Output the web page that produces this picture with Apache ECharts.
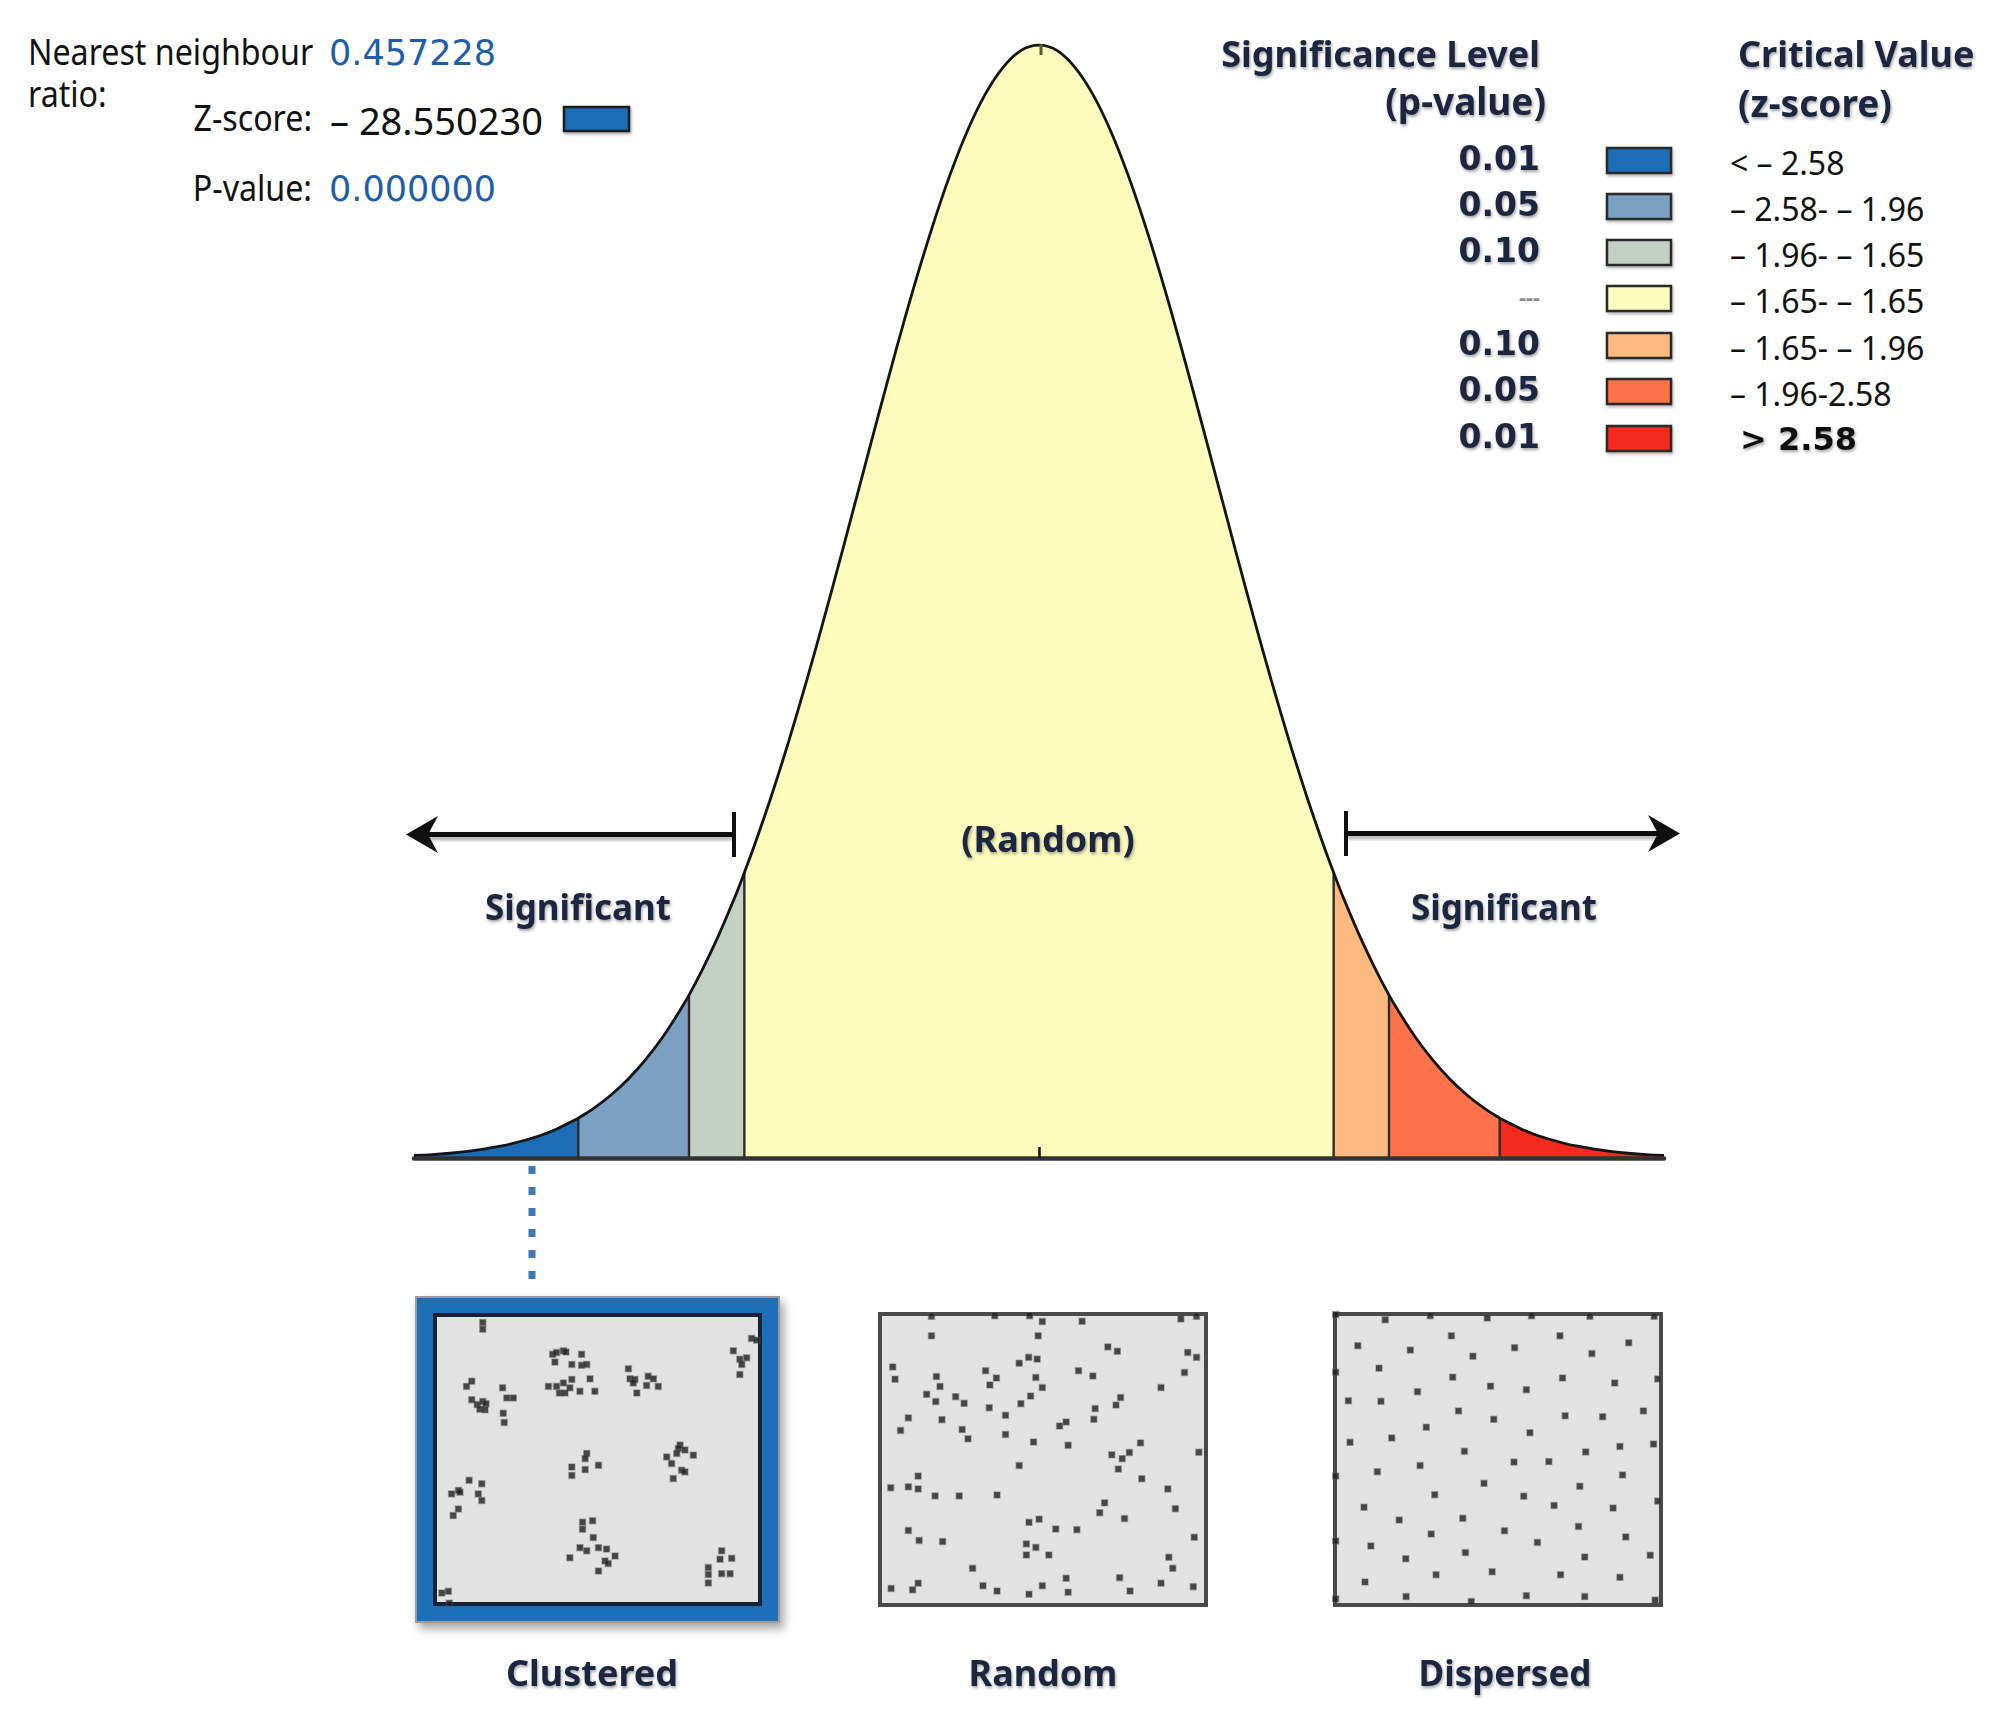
<!DOCTYPE html>
<html><head><meta charset="utf-8">
<script src="https://cdn.jsdelivr.net/npm/echarts@6/dist/echarts.min.js"></script>
<style>html,body{margin:0;padding:0;background:#fff}#c{width:1995px;height:1715px}</style>
</head><body><div id="c"></div>
<script>
// ---- data ----
const zValues = [-3.5,-3.4,-3.3,-3.2,-3.1,-3,-2.9,-2.8,-2.7,-2.6,-2.58,-2.5,-2.4,-2.3,-2.2,-2.1,-2,-1.96,-1.9,-1.8,-1.7,-1.65,-1.6,-1.5,-1.4,-1.3,-1.2,-1.1,-1,-0.9,-0.8,-0.7,-0.6,-0.5,-0.4,-0.3,-0.2,-0.1,0,0.1,0.2,0.3,0.4,0.5,0.6,0.7,0.8,0.9,1,1.1,1.2,1.3,1.4,1.5,1.6,1.65,1.7,1.8,1.9,1.96,2,2.1,2.2,2.3,2.4,2.5,2.58,2.6,2.7,2.8,2.9,3,3.1,3.2,3.3,3.4,3.5];
const density = [0.0009,0.0012,0.0017,0.0024,0.0033,0.0044,0.0060,0.0079,0.0104,0.0136,0.0143,0.0175,0.0224,0.0283,0.0355,0.0440,0.0540,0.0584,0.0656,0.0790,0.0940,0.1023,0.1109,0.1295,0.1497,0.1714,0.1942,0.2179,0.2420,0.2661,0.2897,0.3123,0.3332,0.3521,0.3683,0.3814,0.3910,0.3970,0.3989,0.3970,0.3910,0.3814,0.3683,0.3521,0.3332,0.3123,0.2897,0.2661,0.2420,0.2179,0.1942,0.1714,0.1497,0.1295,0.1109,0.1023,0.0940,0.0790,0.0656,0.0584,0.0540,0.0440,0.0355,0.0283,0.0224,0.0175,0.0143,0.0136,0.0104,0.0079,0.0060,0.0044,0.0033,0.0024,0.0017,0.0012,0.0009];
const criticalValues = [-2.58,-1.96,-1.65,1.65,1.96,2.58];
const pLabels = ['0.01','0.05','0.10','---','0.10','0.05','0.01'];
const zLabels = ['< – 2.58','– 2.58- – 1.96','– 1.96- – 1.65','– 1.65- – 1.65','– 1.65- – 1.96','– 1.96-2.58','> 2.58'];
const statNames = ['Nearest neighbour','ratio:','Z-score:','P-value:'];
const statValues = ['0.457228','– 28.550230','0.000000'];
const patternNames = ['Clustered','Random','Dispersed'];
const clusteredDots = [[14.7,2.6],[14.7,4.9],[9.7,24.7],[11.3,22.9],[11.3,29.3],[13.0,31.0],[14.7,29.9],[15.7,30.7],[13.8,32.6],[15.4,32.8],[20.8,25.2],[22.1,28.7],[24.1,28.7],[21.0,34.0],[21.3,37.2],[36.2,13.6],[37.4,13.0],[39.5,12.4],[40.3,12.8],[36.9,16.3],[42.1,17.1],[45.1,13.6],[45.1,17.4],[46.7,17.1],[47.7,22.1],[42.1,22.3],[39.5,23.5],[34.9,24.7],[37.4,24.7],[38.3,27.0],[40.0,27.0],[41.5,25.2],[44.6,26.4],[49.2,26.4],[59.5,18.6],[60.0,22.1],[61.5,22.3],[61.0,23.5],[65.6,21.2],[67.2,22.1],[65.1,24.4],[68.7,24.7],[62.1,27.0],[97.4,8.1],[99.0,8.7],[91.8,12.4],[93.8,15.3],[95.9,14.8],[94.4,17.1],[93.8,20.6],[46.7,47.9],[46.2,49.7],[42.1,52.6],[46.2,53.5],[50.3,52.0],[42.1,55.5],[75.4,45.0],[74.9,46.2],[76.9,46.7],[79.5,48.5],[71.3,49.1],[72.8,51.4],[74.4,47.9],[75.9,53.7],[76.9,54.3],[73.3,56.6],[10.5,57.2],[14.4,58.4],[7.2,60.7],[5.1,61.9],[7.7,61.3],[13.3,61.9],[14.4,64.2],[7.2,67.1],[5.6,69.4],[45.4,71.7],[48.5,71.2],[45.4,74.1],[48.7,77.0],[44.6,80.5],[46.7,81.6],[50.3,80.5],[52.8,81.0],[41.5,84.0],[52.3,85.1],[53.3,86.0],[55.4,83.4],[50.3,88.6],[88.2,81.6],[87.7,84.5],[91.3,84.2],[84.1,87.4],[88.2,89.5],[90.8,89.5],[84.1,89.8],[84.1,92.7],[2.1,96.2],[4.1,95.6],[4.4,99.7]];
const randomDots = [[15.8,0.8],[35.2,0.6],[45.9,0.6],[49.8,2.6],[62.0,2.5],[92.3,1.7],[97.1,0.8],[15.8,7.5],[48.5,7.5],[69.9,11.3],[72.8,12.8],[94.4,13.2],[97.1,14.9],[3.9,18.2],[4.6,22.4],[17.3,21.5],[18.4,24.9],[14.3,27.6],[17.1,30.1],[32.4,19.5],[35.7,22.0],[33.7,24.4],[42.7,16.9],[45.6,14.9],[48.2,15.5],[47.8,21.8],[49.8,25.3],[23.2,28.4],[25.8,30.7],[33.5,32.2],[38.5,34.8],[38.5,41.4],[43.2,30.8],[46.2,28.2],[60.9,19.5],[65.3,21.3],[86.2,25.3],[93.4,20.1],[73.8,28.7],[72.4,31.3],[66.0,32.5],[65.6,36.2],[8.7,35.7],[6.3,40.0],[19.0,36.3],[25.2,39.7],[27.0,42.9],[47.1,44.0],[55.1,38.5],[57.1,37.1],[57.7,45.1],[79.9,44.3],[97.8,47.5],[71.1,48.4],[74.3,49.7],[76.5,47.6],[73.1,53.3],[42.7,52.1],[11.7,55.7],[11.7,60.1],[8.7,59.4],[3.3,59.7],[16.9,62.5],[24.3,62.5],[35.9,62.2],[80.3,56.6],[88.3,60.1],[90.6,66.9],[68.9,64.9],[67.4,68.3],[75.0,70.3],[45.7,71.6],[48.8,70.5],[53.9,73.9],[60.4,74.1],[8.7,74.4],[12.0,77.8],[19.2,78.2],[44.9,79.0],[47.8,80.2],[44.9,82.8],[51.8,82.8],[96.4,76.7],[88.6,83.6],[89.8,87.4],[28.4,87.4],[11.7,92.5],[3.4,94.3],[10.0,94.8],[31.6,93.4],[35.9,95.2],[45.7,96.3],[49.8,93.4],[57.1,90.8],[57.7,95.6],[73.5,90.6],[76.7,95.2],[86.2,92.5],[96.1,93.7]];
const dispersedDots = [[0.2,0.2],[15.4,2.0],[29.2,0.6],[46.7,1.4],[60.3,0.6],[78.2,0.8],[97.9,0.8],[7.0,10.9],[23.1,12.4],[35.7,7.5],[42.3,14.5],[55.1,11.6],[69.0,7.5],[78.8,13.6],[90.1,9.9],[0.2,20.0],[13.5,18.6],[36.1,21.7],[47.7,24.8],[58.7,26.0],[69.8,22.0],[85.8,23.7],[99.0,22.3],[4.1,29.8],[14.1,30.0],[25.3,26.7],[37.9,33.3],[48.7,36.2],[70.6,35.0],[82.1,35.3],[94.6,33.3],[28.0,38.9],[4.6,44.1],[17.4,42.6],[39.7,47.2],[59.8,40.8],[54.9,50.9],[65.6,50.7],[76.9,47.4],[87.4,45.5],[97.7,44.7],[0.2,55.7],[13.0,54.2],[26.1,52.1],[45.7,58.2],[75.1,59.2],[88.2,55.3],[8.9,66.4],[19.7,70.8],[30.6,62.1],[39.2,70.2],[57.9,62.6],[67.2,65.8],[85.3,66.7],[99.0,64.3],[0.2,78.0],[11.0,79.7],[29.5,75.6],[52.0,74.5],[62.1,78.5],[74.7,73.0],[89.2,76.6],[21.7,84.1],[40.0,82.0],[76.6,83.5],[96.7,82.9],[9.2,92.1],[31.0,89.6],[48.2,88.6],[69.2,89.6],[87.4,90.5],[0.2,97.9],[21.8,97.1],[41.8,98.8],[58.7,96.8],[76.6,97.1],[98.2,98.3]];

// ---- styles ----
const bandColors = ['#1b6db5','#7ba0c1','#c3d1c4','#fdfcbc','#feb980','#fe7349','#f42a1f'];
const FONT = '"Noto Sans", sans-serif';
const WIDE = '"DejaVu Sans", sans-serif';
const titleColor = '#1b2640';

const chart = echarts.init(document.getElementById('c'), null, {renderer: 'svg', width: 1995, height: 1715});

const pts = zValues.map((z, i) => [z, density[i]]);
const bounds = [zValues[0], ...criticalValues, zValues[zValues.length - 1]];
const dens = z => density[zValues.indexOf(z)];

const series = [];
for (let i = 0; i < bounds.length - 1; i++) {
  series.push({
    type: 'line', xAxisIndex: 0, yAxisIndex: 0, smooth: 0.3, showSymbol: false, silent: true, z: 2,
    data: pts.filter(p => p[0] >= bounds[i] - 1e-9 && p[0] <= bounds[i + 1] + 1e-9),
    lineStyle: {width: 0}, areaStyle: {color: bandColors[i], opacity: 1}
  });
}
criticalValues.forEach(c => series.push({
  type: 'line', xAxisIndex: 0, yAxisIndex: 0, showSymbol: false, silent: true, z: 3,
  data: [[c, 0], [c, dens(c)]], lineStyle: {color: '#2a2a2a', width: 2.4}
}));
series.push({
  type: 'line', xAxisIndex: 0, yAxisIndex: 0, smooth: 0.3, showSymbol: false, silent: true, z: 4,
  data: pts, lineStyle: {color: '#151515', width: 2.8}
});
[clusteredDots, randomDots, dispersedDots].forEach((d, k) => series.push({
  type: 'scatter', xAxisIndex: k + 1, yAxisIndex: k + 1, symbol: 'rect', symbolSize: 6, silent: true,
  itemStyle: {color: '#1e1e1e', borderColor: 'rgba(90,90,90,0.5)', borderWidth: 1.5}, data: d
}));

const boxes = [
  {left: 435, top: 1315, width: 325, height: 289, border: '#14223a'},
  {left: 880, top: 1314, width: 326, height: 291, border: '#4a4a4a'},
  {left: 1335, top: 1314, width: 326, height: 291, border: '#4a4a4a'}
];

const grids = [{left: 414, top: 42, width: 1250, height: 1116}];
boxes.forEach(b => grids.push({left: b.left, top: b.top, width: b.width, height: b.height, show: true,
  backgroundColor: '#e2e2e2', borderColor: b.border, borderWidth: 4, z: 1}));

const xAxes = [{type: 'value', gridIndex: 0, min: -3.5, max: 3.5, interval: 3.5, z: 10,
  axisLine: {show: true, lineStyle: {color: '#333', width: 4.5}},
  axisTick: {show: true, inside: true, length: 11, customValues: [0], lineStyle: {color: '#111', width: 2.5}},
  axisLabel: {show: false}, splitLine: {show: false}}];
const yAxes = [{type: 'value', gridIndex: 0, min: 0, max: 0.4, show: false}];
for (let k = 1; k <= 3; k++) {
  xAxes.push({type: 'value', gridIndex: k, min: 0, max: 100, show: false});
  yAxes.push({type: 'value', gridIndex: k, min: 0, max: 100, inverse: true, show: false});
}

function txt(text, x, y, opt) {
  const o = Object.assign({size: 36, weight: 'normal', color: '#111', align: 'left', shadow: false, font: FONT, sx: 1}, opt || {});
  const style = {text, x: 0, y: 0, fill: o.color, font: o.weight + ' ' + o.size + 'px ' + o.font,
    align: o.align, textAlign: o.align, verticalAlign: 'middle', textVerticalAlign: 'middle'};
  if (o.shadow) { style.textShadowColor = 'rgba(90,90,90,0.55)'; style.textShadowBlur = 3; style.textShadowOffsetX = 1; style.textShadowOffsetY = 2; }
  return {type: 'text', z: 20, x, y, scaleX: o.sx, style};
}
const graphic = [];
// top-left statistics
graphic.push(txt(statNames[0], 28, 51, {size: 37, sx: 0.87}));
graphic.push(txt(statNames[1], 28, 93, {size: 37, sx: 0.87}));
graphic.push(txt(statValues[0], 329, 53, {color: '#1f5ea6', font: WIDE, size: 35}));
graphic.push(txt(statNames[2], 312, 117, {align: 'right', size: 37, sx: 0.87}));
graphic.push(txt(statValues[1], 330, 120, {color: '#111', size: 38}));
graphic.push(txt(statNames[3], 312, 187, {align: 'right', size: 37, sx: 0.87}));
graphic.push(txt(statValues[2], 329, 189, {color: '#1f5ea6', font: WIDE, size: 35}));
graphic.push({type: 'rect', z: 20, shape: {x: 564, y: 107, width: 65, height: 24},
  style: {fill: bandColors[0], stroke: '#1d1d1d', lineWidth: 2.5, shadowColor: 'rgba(0,0,0,0.35)', shadowBlur: 3, shadowOffsetX: 1, shadowOffsetY: 2}});

// legend
graphic.push(txt('Significance Level', 1540, 53, {weight: 'bold', color: titleColor, align: 'right', shadow: true}));
graphic.push(txt('(p-value)', 1546, 100, {weight: 'bold', color: titleColor, align: 'right', shadow: true, size: 37}));
graphic.push(txt('Critical Value', 1738, 53, {weight: 'bold', color: titleColor, shadow: true}));
graphic.push(txt('(z-score)', 1738, 102, {weight: 'bold', color: titleColor, shadow: true, size: 37}));
const rowY = [160, 206, 252, 298, 345, 391, 438];
pLabels.forEach((p, i) => {
  if (p === '---') graphic.push(txt(p, 1540, rowY[i] - 2, {size: 22, color: '#8a8a9a', align: 'right', weight: 'bold'}));
  else graphic.push(txt(p, 1540, rowY[i] - 2, {weight: 'bold', color: titleColor, align: 'right', shadow: true, font: WIDE, size: 33}));
  graphic.push({type: 'rect', z: 20, shape: {x: 1607, y: rowY[i] - 12, width: 64, height: 25},
    style: {fill: bandColors[i], stroke: '#2b2b2b', lineWidth: 2.5, shadowColor: 'rgba(0,0,0,0.3)', shadowBlur: 3, shadowOffsetX: 1, shadowOffsetY: 2}});
  const bold = i === 6;
  graphic.push(bold ? txt(zLabels[i], 1740, rowY[i] + 1, {size: 32, weight: 'bold', font: WIDE, color: '#111', shadow: true})
                    : txt(zLabels[i], 1730, rowY[i] + 2, {size: 32, color: '#111'}));
});

// arrows (bodies drawn as thin rects)
graphic.push({type: 'rect', z: 20, shape: {x: 418, y: 832, width: 316, height: 5}, style: {fill: '#111', shadowColor: 'rgba(0,0,0,0.35)', shadowBlur: 4, shadowOffsetY: 3}});
graphic.push({type: 'rect', z: 20, shape: {x: 732, y: 812, width: 4, height: 45}, style: {fill: '#111'}});
graphic.push({type: 'polygon', z: 21, shape: {points: [[406, 834.5], [438, 816], [428, 834.5], [438, 853]]}, style: {fill: '#111'}});
graphic.push({type: 'rect', z: 20, shape: {x: 1346, y: 831, width: 322, height: 5}, style: {fill: '#111', shadowColor: 'rgba(0,0,0,0.35)', shadowBlur: 4, shadowOffsetY: 3}});
graphic.push({type: 'rect', z: 20, shape: {x: 1344, y: 811, width: 4, height: 45}, style: {fill: '#111'}});
graphic.push({type: 'polygon', z: 21, shape: {points: [[1680, 833.5], [1648, 815], [1658, 833.5], [1648, 852]]}, style: {fill: '#111'}});
// small mark at the top of the curve
graphic.push({type: 'rect', z: 20, shape: {x: 1039.5, y: 44, width: 3, height: 11}, style: {fill: '#5a5a2a'}});

graphic.push(txt('(Random)', 1048, 838, {weight: 'bold', color: titleColor, align: 'center', shadow: true}));
graphic.push(txt('Significant', 578, 906, {weight: 'bold', color: titleColor, align: 'center', shadow: true, size: 35}));
graphic.push(txt('Significant', 1504, 906, {weight: 'bold', color: titleColor, align: 'center', shadow: true, size: 35}));

// clustered frame + connector
graphic.push({type: 'rect', z: 0, shape: {x: 416, y: 1297, width: 363, height: 325},
  style: {fill: '#1c70b8', stroke: '#9c9c9c', lineWidth: 2, shadowColor: 'rgba(0,0,0,0.35)', shadowBlur: 10, shadowOffsetX: 4, shadowOffsetY: 6}});
graphic.push({type: 'line', z: 20, shape: {x1: 532, y1: 1166, x2: 532, y2: 1292},
  style: {stroke: '#3f79b3', lineWidth: 7, lineDash: [8, 13]}});

[592, 1043, 1505].forEach((x, i) => graphic.push(txt(patternNames[i], x, 1672, {weight: 'bold', color: titleColor, align: 'center', shadow: true, size: i === 2 ? 35 : 36})));

chart.setOption({
  animation: false,
  backgroundColor: '#ffffff',
  grid: grids, xAxis: xAxes, yAxis: yAxes, series, graphic
});
</script></body></html>
